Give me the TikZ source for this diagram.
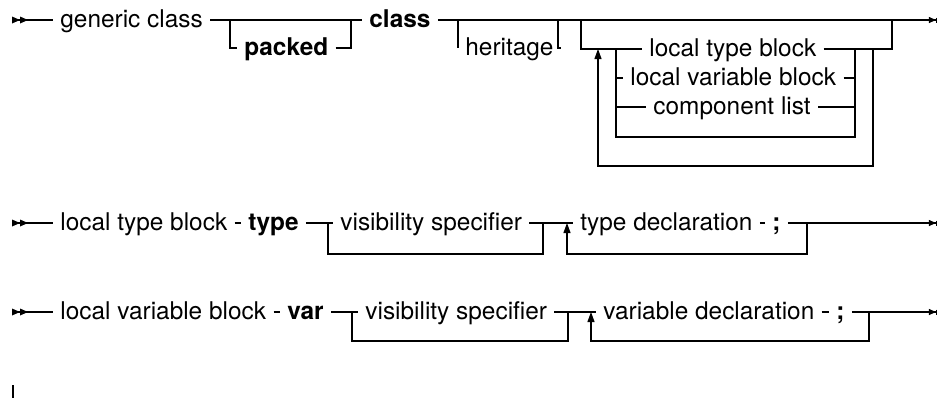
\documentclass[tikz,border=0pt]{standalone}
\usepackage{fontspec}
\setmainfont{TeX Gyre Heros}
\usetikzlibrary{arrows.meta}
\begin{document}
\begin{tikzpicture}[x=0.5pt, y=-0.5pt,
    every node/.style={anchor=west, inner xsep=3.5pt, inner ysep=0pt, text height=9pt, text depth=2pt, font=\fontsize{12.2}{14}\selectfont},
    kw/.style={font=\fontsize{12.2}{14}\selectfont\bfseries},
    rail/.style={line width=0.55pt},
    back/.style={rail, -{Triangle[length=5pt,width=3.5pt]}},
    exit/.style={rail, -{Triangle[length=3.5pt,width=3pt]Bar[width=2.5pt]}}
]
    \useasboundingbox (0,0) rectangle (939,398);
    % generic class
    \node (gen) at (53,20) {generic class};
    \node[kw] (pkd) at (237,48) {packed};
    \node[kw] (cls) at (362,20) {class};
    \node (her) at (458,48) {heritage};
    \node (ltb) at (642,49) {local type block};
    \node (lvb) at (623,78) {local variable block};
    \node (cpl) at (646,107) {component list};
    \coordinate (s1) at (12,20);
    \coordinate (e1) at (937,20);
    \coordinate (p1) at (230,20);
    \coordinate (p2) at (351,20);
    \coordinate (h1) at (458,20);
    \coordinate (h2) at (558,20);
    \coordinate (a1) at (581,20);
    \coordinate (a2) at (892,20);
    \coordinate (il) at (616,49);
    \coordinate (ir) at (855,49);
    \coordinate (ol) at (598,49);
    \coordinate (or) at (873,49);
    \draw[rail] (s1) -- (gen.west);
    \draw[rail] (gen.east) -- (cls.west);
    \draw[rail] (p1) |- (pkd.west);
    \draw[rail] (pkd.east) -| (p2);
    \draw[exit] (cls.east) -- (e1);
    \draw[rail] (h1) |- (her.west);
    \draw[rail] (her.east) -| (h2);
    \draw[rail] (a1) |- (ltb.west);
    \draw[rail] (ltb.east) -| (a2);
    \foreach \alt in {lvb,cpl} {
        \draw[rail] (il) |- (\alt.west);
        \draw[rail] (\alt.east) -| (ir);
    }
    \draw[rail] (il) -- ++(0,88) -| (ir);
    \draw[back] (or) -- ++(0,117) -| (ol);
    % local type block
    \node (ltb2) at (53,223) {local type block};
    \node[kw] (typ) at (241,223) {type};
    \node (vis1) at (333,223) {visibility specifier};
    \node (tdc) at (573,223) {type declaration};
    \node[kw] (sc1) at (765,223) {;};
    \coordinate (s2) at (12,223);
    \coordinate (e2) at (937,223);
    \coordinate (v1) at (328,223);
    \coordinate (v2) at (543,223);
    \coordinate (r1) at (567,223);
    \coordinate (r2) at (807,223);
    \draw[rail] (s2) -- (ltb2.west);
    \draw[rail] (ltb2.east) -- (typ.west);
    \draw[rail] (typ.east) -- (vis1.west);
    \draw[rail] (vis1.east) -- (tdc.west);
    \draw[rail] (tdc.east) -- (sc1.west);
    \draw[exit] (sc1.east) -- (e2);
    \draw[rail] (v1) -- ++(0,31) -| (v2);
    \draw[back] (r2) -- ++(0,31) -| (r1);
    % local variable block
    \node (lvb2) at (53,312) {local variable block};
    \node[kw] (var) at (280,312) {var};
    \node (vis2) at (358,312) {visibility specifier};
    \node (vdc) at (596,312) {variable declaration};
    \node[kw] (sc2) at (829,312) {;};
    \coordinate (s3) at (12,312);
    \coordinate (e3) at (937,312);
    \coordinate (w1) at (352,312);
    \coordinate (w2) at (568,312);
    \coordinate (q1) at (591,312);
    \coordinate (q2) at (869,312);
    \draw[rail] (s3) -- (lvb2.west);
    \draw[rail] (lvb2.east) -- (var.west);
    \draw[rail] (var.east) -- (vis2.west);
    \draw[rail] (vis2.east) -- (vdc.west);
    \draw[rail] (vdc.east) -- (sc2.west);
    \draw[exit] (sc2.east) -- (e3);
    \draw[rail] (w1) -- ++(0,29) -| (w2);
    \draw[back] (q2) -- ++(0,29) -| (q1);
    % start markers
    \foreach \s in {s1,s2,s3} {
        \foreach \dx in {0,8} {
            \fill (\s) ++(\dx,-3.5) -- ++(8,3.5) -- ++(-8,3.5) -- cycle;
        }
    }
    \coordinate (t0) at (13,385);
    \draw[rail] (t0) -- ++(0,13);
\end{tikzpicture}
\end{document}
